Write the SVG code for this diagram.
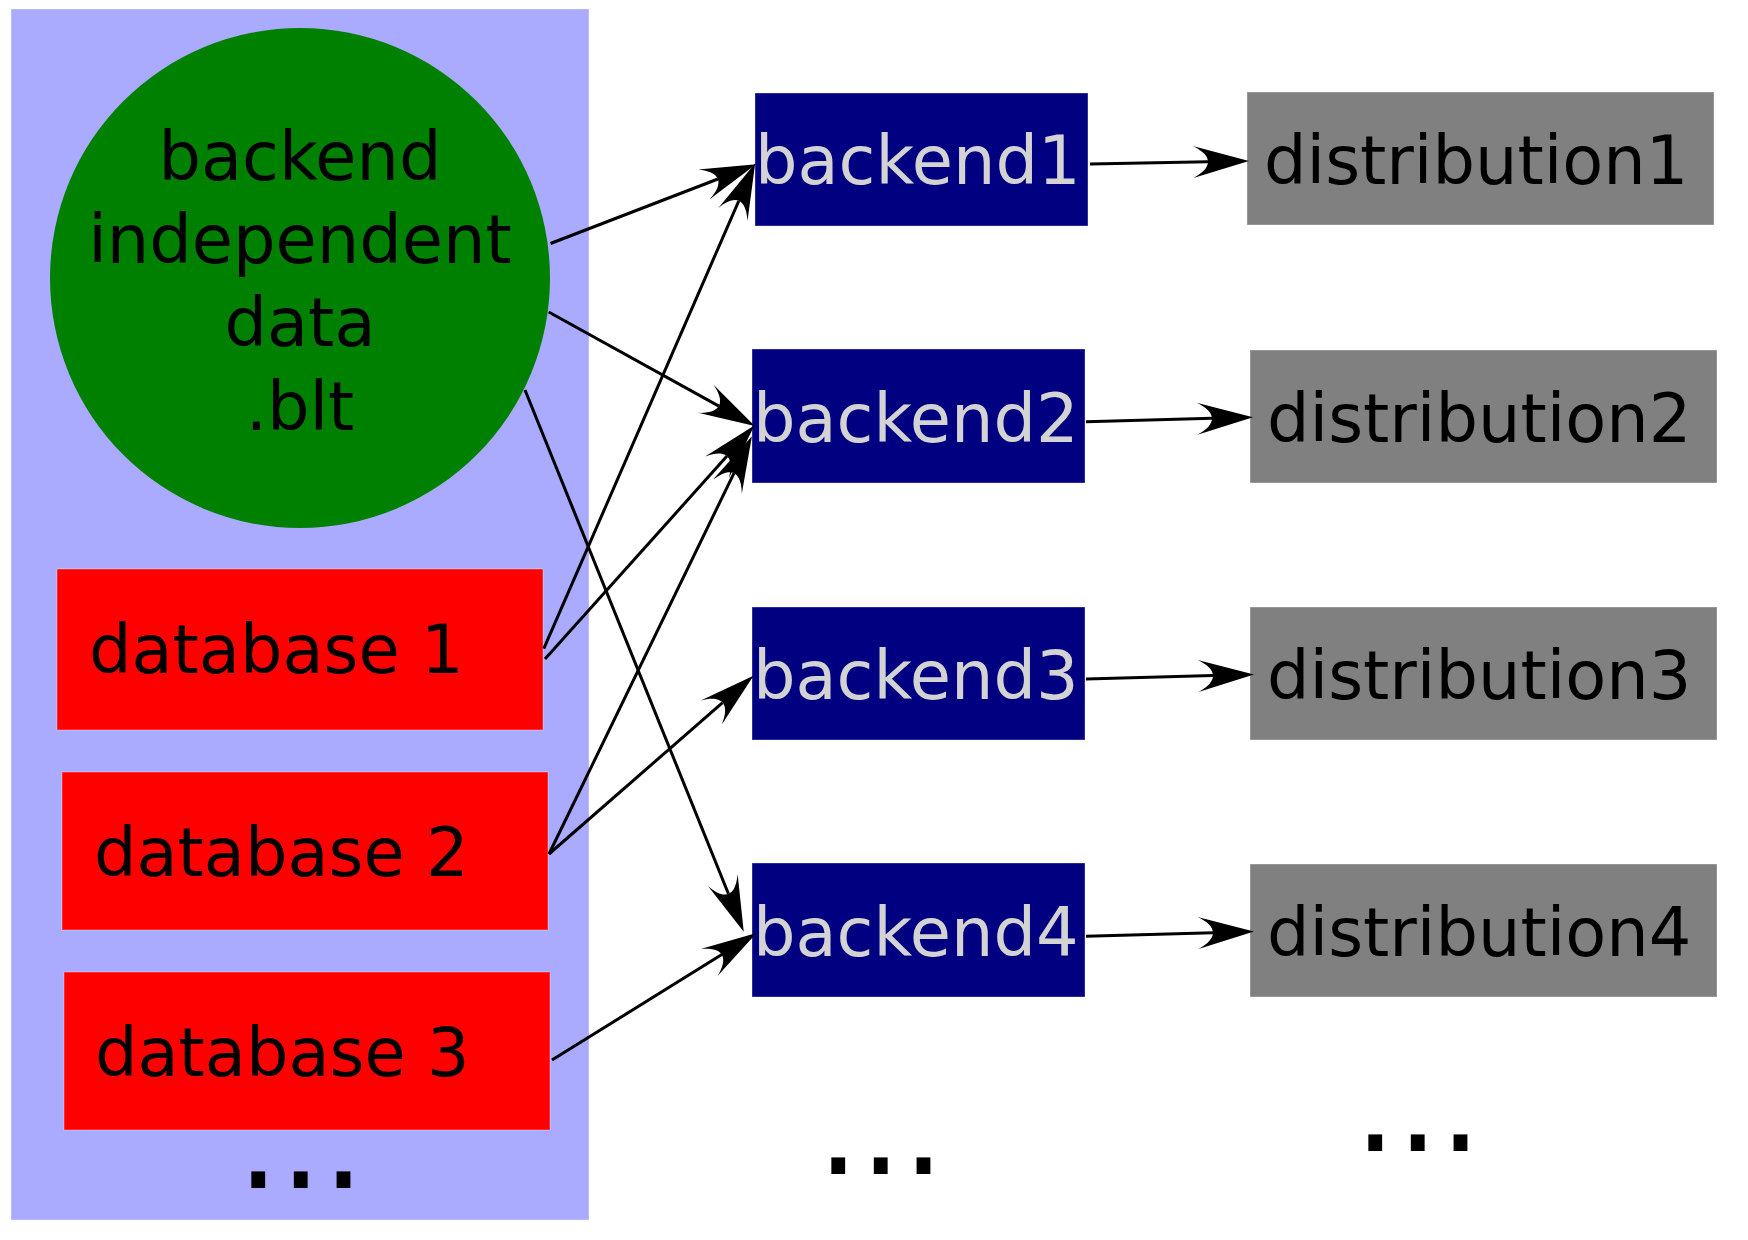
<svg xmlns="http://www.w3.org/2000/svg" width="1748" height="1240" viewBox="0 0 1748 1240">
<style>
text{font-family:"DejaVu Sans","Liberation Sans",sans-serif;font-size:67px}
.dark{fill:#000000}
.light{fill:#d3d3d3}
.box{stroke:#ffffff;stroke-opacity:0.35;stroke-width:1}
.db{fill:#ff0000}
.be{fill:#000080}
.di{fill:#808080}
.con{stroke:#000000;stroke-width:3;fill:none;marker-end:url(#arr)}
.dots{font-size:134px;fill:#000000}
</style>
<defs>
<marker id="arr" markerUnits="userSpaceOnUse" orient="auto" refX="0" refY="0" markerWidth="60" markerHeight="40" overflow="visible">
<path d="M41,0 L-15,-16 C5,-6 5,6 -15,16 Z" fill="#000000"/>
</marker>
</defs>
<rect x="0" y="0" width="1748" height="1240" fill="#ffffff"/>
<g id="panel">
<rect x="11" y="9" width="578" height="1211" fill="#aaaaff" class="box"/>
<text class="dots" x="237" y="1188">...</text>
</g>
<g id="blt">
<circle cx="300" cy="278" r="250" fill="#008000"/>
<text class="dark" x="300" y="179.6" text-anchor="middle">backend</text>
<text class="dark" x="300" y="262.5" text-anchor="middle">independent</text>
<text class="dark" x="300" y="346.4" text-anchor="middle">data</text>
<text class="dark" x="300" y="429.6" text-anchor="middle">.blt</text>
</g>
<g id="database1">
<rect class="db box" x="57" y="569" width="486" height="161"/>
<text class="dark" x="89" y="673">database 1</text>
</g>
<g id="database2">
<rect class="db box" x="62" y="772" width="486" height="158"/>
<text class="dark" x="94" y="876">database 2</text>
</g>
<g id="database3">
<rect class="db box" x="64" y="972" width="486" height="158"/>
<text class="dark" x="95" y="1076">database 3</text>
</g>
<g id="backend1">
<rect class="be box" x="755" y="93" width="333" height="133"/>
<text class="light" x="755" y="184">backend1</text>
</g>
<g id="backend2">
<rect class="be box" x="752" y="349" width="333" height="134"/>
<text class="light" x="753" y="442">backend2</text>
</g>
<g id="backend3">
<rect class="be box" x="752" y="607" width="333" height="133"/>
<text class="light" x="753" y="699">backend3</text>
</g>
<g id="backend4">
<rect class="be box" x="752" y="863" width="333" height="134"/>
<text class="light" x="753" y="956">backend4</text>
</g>
<g id="distribution1">
<rect class="di box" x="1247" y="92" width="467" height="133"/>
<text class="dark" x="1264" y="184">distribution1</text>
</g>
<g id="distribution2">
<rect class="di box" x="1250" y="350" width="467" height="133"/>
<text class="dark" x="1267" y="442">distribution2</text>
</g>
<g id="distribution3">
<rect class="di box" x="1250" y="607" width="467" height="133"/>
<text class="dark" x="1267" y="699">distribution3</text>
</g>
<g id="distribution4">
<rect class="di box" x="1250" y="864" width="467" height="133"/>
<text class="dark" x="1267" y="956">distribution4</text>
</g>
<g id="more">
<text class="dots" x="817" y="1174">...</text>
<text class="dots" x="1354" y="1151">...</text>
</g>
<g id="connectors">
<line class="con" x1="550.5" y1="243.5" x2="717.9" y2="179"/>
<line class="con" x1="543.8" y1="648.6" x2="738.8" y2="200.8"/>
<line class="con" x1="548.7" y1="312" x2="718.9" y2="406.1"/>
<line class="con" x1="545" y1="659" x2="727" y2="456.1"/>
<line class="con" x1="549" y1="854" x2="734" y2="473.1"/>
<line class="con" x1="549" y1="854" x2="722.6" y2="702.6"/>
<line class="con" x1="525" y1="390" x2="728.4" y2="893.8"/>
<line class="con" x1="552" y1="1060" x2="721.8" y2="954.6"/>
<line class="con" x1="1090" y1="164" x2="1208" y2="161.7"/>
<line class="con" x1="1086" y1="421.7" x2="1212" y2="418.3"/>
<line class="con" x1="1086" y1="679" x2="1213" y2="675.6"/>
<line class="con" x1="1086" y1="936.2" x2="1213" y2="932.7"/>
</g>
</svg>
